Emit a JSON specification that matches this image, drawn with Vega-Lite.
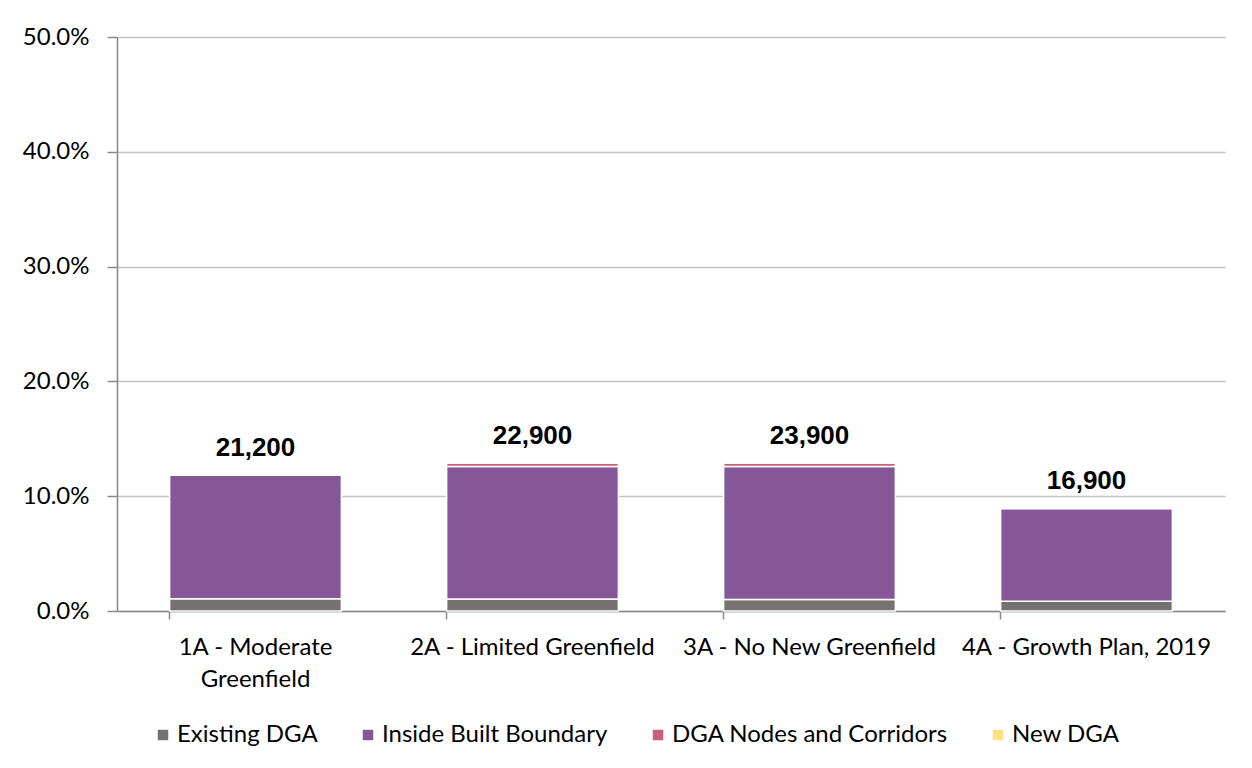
{
  "$schema": "https://vega.github.io/schema/vega-lite/v6.json",
  "autosize": {"type": "none"},
  "width": 1108,
  "height": 574,
  "padding": {"left": 117, "top": 37, "right": 27, "bottom": 157},
  "background": "white",
  "config": {
    "view": {"stroke": null},
    "font": "Lato"
  },
  "datasets": {
    "shares": [
      {"scenario": "1A - Moderate Greenfield", "area": "Existing DGA", "k": 1, "share": 0.0106},
      {"scenario": "1A - Moderate Greenfield", "area": "Inside Built Boundary", "k": 2, "share": 0.1079},
      {"scenario": "1A - Moderate Greenfield", "area": "DGA Nodes and Corridors", "k": 3, "share": 0.0},
      {"scenario": "1A - Moderate Greenfield", "area": "New DGA", "k": 4, "share": 0.0},
      {"scenario": "2A - Limited Greenfield", "area": "Existing DGA", "k": 1, "share": 0.0105},
      {"scenario": "2A - Limited Greenfield", "area": "Inside Built Boundary", "k": 2, "share": 0.1154},
      {"scenario": "2A - Limited Greenfield", "area": "DGA Nodes and Corridors", "k": 3, "share": 0.0030},
      {"scenario": "2A - Limited Greenfield", "area": "New DGA", "k": 4, "share": 0.0},
      {"scenario": "3A - No New Greenfield", "area": "Existing DGA", "k": 1, "share": 0.0100},
      {"scenario": "3A - No New Greenfield", "area": "Inside Built Boundary", "k": 2, "share": 0.1159},
      {"scenario": "3A - No New Greenfield", "area": "DGA Nodes and Corridors", "k": 3, "share": 0.0030},
      {"scenario": "3A - No New Greenfield", "area": "New DGA", "k": 4, "share": 0.0},
      {"scenario": "4A - Growth Plan, 2019", "area": "Existing DGA", "k": 1, "share": 0.0084},
      {"scenario": "4A - Growth Plan, 2019", "area": "Inside Built Boundary", "k": 2, "share": 0.0809},
      {"scenario": "4A - Growth Plan, 2019", "area": "DGA Nodes and Corridors", "k": 3, "share": 0.0},
      {"scenario": "4A - Growth Plan, 2019", "area": "New DGA", "k": 4, "share": 0.0}
    ],
    "totals": [
      {"scenario": "1A - Moderate Greenfield", "total": 0.1185, "units": 21200},
      {"scenario": "2A - Limited Greenfield", "total": 0.1289, "units": 22900},
      {"scenario": "3A - No New Greenfield", "total": 0.1289, "units": 23900},
      {"scenario": "4A - Growth Plan, 2019", "total": 0.0893, "units": 16900}
    ]
  },
  "layer": [
    {
      "data": {"name": "shares"},
      "mark": {"type": "bar", "stroke": "white", "strokeWidth": 1.5},
      "encoding": {
        "x": {
          "field": "scenario",
          "type": "nominal",
          "sort": null,
          "scale": {"paddingInner": 0.38, "paddingOuter": 0.19},
          "axis": {
            "title": null,
            "labelAngle": 0,
            "labelFont": "Lato",
            "labelFontSize": 24,
            "labelColor": "#000000",
            "labelLineHeight": 32,
            "labelPadding": 16,
            "labelLimit": 0,
            "labelExpr": "datum.label == '1A - Moderate Greenfield' ? ['1A - Moderate', 'Greenfield'] : datum.label",
            "bandPosition": 0,
            "tickSize": 8,
            "tickColor": "#888888",
            "tickWidth": 1.5,
            "domainColor": "#888888",
            "domainWidth": 1.5,
            "grid": false
          }
        },
        "y": {
          "field": "share",
          "type": "quantitative",
          "stack": "zero",
          "scale": {"domain": [0, 0.5], "nice": false},
          "axis": {
            "title": null,
            "format": ".1%",
            "values": [0, 0.1, 0.2, 0.3, 0.4, 0.5],
            "labelFont": "Lato",
            "labelFontSize": 24,
            "labelColor": "#000000",
            "labelPadding": 18,
            "tickSize": 10,
            "tickColor": "#888888",
            "tickWidth": 1.5,
            "domainColor": "#888888",
            "domainWidth": 1.5,
            "grid": true,
            "gridColor": "#c4c4c4",
            "gridWidth": 1.5
          }
        },
        "order": {"field": "k", "type": "quantitative"},
        "color": {
          "field": "area",
          "type": "nominal",
          "sort": ["Existing DGA", "Inside Built Boundary", "DGA Nodes and Corridors", "New DGA"],
          "scale": {
            "domain": ["Existing DGA", "Inside Built Boundary", "DGA Nodes and Corridors", "New DGA"],
            "range": ["#767171", "#855799", "#C8627C", "#FFE183"]
          },
          "legend": {
            "title": null,
            "orient": "none",
            "direction": "horizontal",
            "columns": 4,
            "legendX": 34,
            "legendY": 686,
            "padding": 0,
            "symbolType": "square",
            "symbolSize": 110,
            "symbolStrokeWidth": 0,
            "labelFont": "Lato",
            "labelFontSize": 24,
            "labelColor": "#000000",
            "labelLimit": 0,
            "labelOffset": 2,
            "columnPadding": 38
          }
        }
      }
    },
    {
      "data": {"name": "totals"},
      "mark": {
        "type": "text",
        "font": "Liberation Sans",
        "fontWeight": "bold",
        "fontSize": 26,
        "baseline": "bottom",
        "dy": -14,
        "color": "#000000"
      },
      "encoding": {
        "x": {"field": "scenario", "type": "nominal", "sort": null},
        "y": {"field": "total", "type": "quantitative"},
        "text": {"field": "units", "type": "quantitative", "format": ","}
      }
    }
  ]
}
